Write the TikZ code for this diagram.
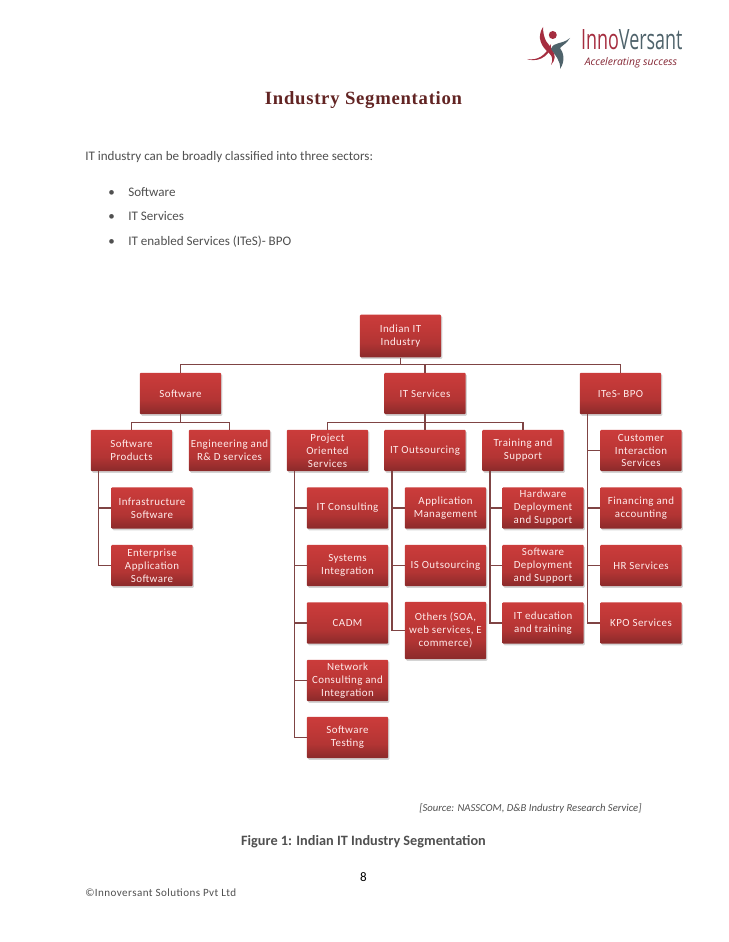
\documentclass[tikz,border=0pt]{standalone}
\usepackage{fontspec}
\setmainfont{Carlito}
\newfontfamily\boxfont[LetterSpace=4]{Carlito}
\newfontfamily\titlefont[LetterSpace=4]{Liberation Serif}
\newfontfamily\logofont{Open Sans}
\usepackage{tikz}
\usetikzlibrary{calc,shadows}
\definecolor{boxtop}{HTML}{CB3C3B}
\definecolor{boxmid}{HTML}{C03837}
\definecolor{boxbot}{HTML}{8A2A2A}
\definecolor{linkred}{HTML}{7F4444}
\definecolor{bodygray}{HTML}{505050}
\definecolor{titlered}{HTML}{622423}
\definecolor{logored}{HTML}{A52D3F}
\definecolor{logogray}{HTML}{4F636B}
\pgfdeclareverticalshading{boxshade}{100bp}{color(0bp)=(boxbot); color(25bp)=(boxbot); color(42bp)=(boxmid!75!boxbot); color(58bp)=(boxmid); color(75bp)=(boxtop); color(100bp)=(boxtop)}
\begin{document}
\begin{tikzpicture}[
  x=0.75pt, y=-0.75pt,
  orgbox/.style={rounded corners=0.8pt, shading=boxshade,
    minimum width=61pt, minimum height=31pt, inner sep=0pt, align=center, text=white!92!red,
    font=\boxfont\fontsize{8.2}{9.7}\selectfont,
    drop shadow={shadow xshift=0.9pt, shadow yshift=-1.2pt, opacity=0.17, fill=black}},
  link/.style={draw=linkred, line width=0.9pt},
  bodytext/.style={anchor=base west, inner sep=0pt, text=bodygray, font=\fontsize{9.8}{11}\selectfont}
]
\fill[white] (0,0) rectangle (728,942);
\useasboundingbox (0,0) rectangle (728,942);
% Page heading and intro
\node[anchor=base, inner sep=0pt, text=titlered, font=\titlefont\bfseries\fontsize{14}{16}\selectfont] (title) at (363.5,104) {Industry Segmentation};
\node[bodytext] (intro) at (85,160) {IT industry can be broadly classified into three sectors:};
\node[bodytext] (bull1) at (108,196) {\textbullet};
\node[bodytext] (item1) at (128,196) {Software};
\node[bodytext] (bull2) at (108,220) {\textbullet};
\node[bodytext] (item2) at (128,220) {IT Services};
\node[bodytext] (bull3) at (108,245) {\textbullet};
\node[bodytext] (item3) at (128,245) {IT enabled Services (ITeS)- BPO};
% Logo
\fill[logored] (527,59) .. controls (538,61) and (546,55) .. (551,44) .. controls (552,52) and (541,64) .. (527,59);
\fill[logored] (543,27) .. controls (536,38) and (542,47) .. (549,53) .. controls (553,57) and (553,60) .. (551,65) .. controls (560,55) and (550,47) .. (546,41) .. controls (544,37) and (543,32) .. (543,27);
\fill[logored] (552.8,35) circle (4);
\fill[logogray] (570,38) .. controls (562,45) and (554,41) .. (551,49) .. controls (555,55) and (561,61) .. (560,69) .. controls (566,60) and (563,52) .. (560,48) .. controls (563,45) and (567,43) .. (570,38);
\node[anchor=base west, inner sep=0pt, font=\logofont\fontsize{21}{21}\selectfont, xscale=0.64] (logo) at (581,50) {\textcolor{logored}{Inno}\textcolor{logogray}{Versant}};
\node[anchor=base west, inner sep=0pt, text=logored!80!black, font=\logofont\itshape\fontsize{7.8}{9}\selectfont] (slogan) at (584.5,65) {Accelerating success};
% Top levels
\node[orgbox, minimum height=32pt] (root) at (400.5,336) {Indian IT\\Industry};
\node[orgbox] (sw) at (180.5,393.5) {Software};
\node[orgbox] (its) at (425,393.5) {IT Services};
\node[orgbox] (ites) at (620.5,393.5) {ITeS- BPO};
\node[orgbox] (prod) at (131.5,450.5) {Software\\Products};
\node[orgbox] (eng) at (229.5,450.5) {Engineering and\\R\& D services};
\node[orgbox] (proj) at (327.5,450.5) {Project\\Oriented\\Services};
\node[orgbox] (out) at (425,450.5) {IT Outsourcing};
\node[orgbox] (train) at (523,450.5) {Training and\\Support};
\node[orgbox] (cust) at (641,450.5) {Customer\\Interaction\\Services};
% Software column
\node[orgbox] (infra) at (152,508) {Infrastructure\\Software};
\node[orgbox] (ent) at (152,565.5) {Enterprise\\Application\\Software};
% Project column
\node[orgbox] (cons) at (347.5,508) {IT Consulting};
\node[orgbox] (sys) at (347.5,565.5) {Systems\\Integration};
\node[orgbox] (cadm) at (347.5,623) {CADM};
\node[orgbox] (net) at (347.5,680.5) {Network\\Consulting and\\Integration};
\node[orgbox] (test) at (347.5,737.5) {Software\\Testing};
% Outsourcing column
\node[orgbox] (app) at (445.5,508) {Application\\Management};
\node[orgbox] (iso) at (445.5,565.5) {IS Outsourcing};
\node[orgbox, minimum height=43pt] (oth) at (445.5,630.5) {Others (SOA,\\web services, E\\commerce)};
% Training column
\node[orgbox] (hw) at (543,508) {Hardware\\Deployment\\and Support};
\node[orgbox] (swd) at (543,565.5) {Software\\Deployment\\and Support};
\node[orgbox] (edu) at (543,623) {IT education\\and training};
% BPO column
\node[orgbox] (fin) at (641,508) {Financing and\\accounting};
\node[orgbox] (hr) at (641,565.5) {HR Services};
\node[orgbox] (kpo) at (641,623) {KPO Services};
% Connectors
\draw[link] (root.south) -- ++(0,7) -| (sw.north) (root.south) -- ++(0,7) -| (its.north) (root.south) -- ++(0,7) -| (ites.north);
\draw[link] (sw.south) -- ++(0,8) -| (prod.north) (sw.south) -- ++(0,8) -| (eng.north);
\draw[link] (its.south) -- ++(0,8) -| (proj.north) (its.south) -- (out.north) (its.south) -- ++(0,8) -| (train.north);
\foreach \parent/\kids in {prod/{infra,ent}, proj/{cons,sys,cadm,net,test}, out/{app,iso,oth}, train/{hw,swd,edu}, ites/{cust,fin,hr,kpo}}
  \draw[link] \foreach \kid in \kids {($(\parent.south west)+(8,0)$) |- (\kid.west)};
% Footer
\node[anchor=base west, inner sep=0pt, text=bodygray, font=\itshape\fontsize{8}{9}\selectfont] (source) at (419,811) {[Source: NASSCOM, D\&B Industry Research Service]};
\node[anchor=base, inner sep=0pt, text=bodygray, font=\bfseries\fontsize{10.7}{12}\selectfont] (caption) at (363.5,845) {Figure 1: Indian IT Industry Segmentation};
\node[anchor=base, inner sep=0pt, text=black, font=\fontsize{9.8}{11}\selectfont] (pageno) at (363.5,881) {8};
\node[anchor=base west, inner sep=0pt, text=bodygray, font=\boxfont\fontsize{8.3}{9}\selectfont] (copy) at (85,896) {©Innoversant Solutions Pvt Ltd};
\end{tikzpicture}
\end{document}
